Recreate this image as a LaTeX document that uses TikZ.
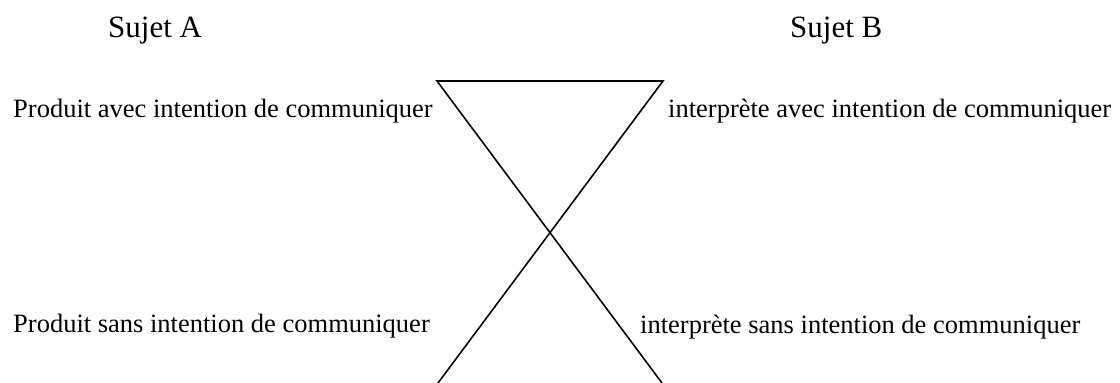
\documentclass[tikz,border=0pt]{standalone}
\usepackage{fontspec}
\setmainfont{Liberation Serif}
\begin{document}
\begin{tikzpicture}[x=1pt,y=-1pt,
  lbl/.style={inner sep=0pt,anchor=base west,font=\fontsize{26.5}{30}\selectfont},
  head/.style={inner sep=0pt,anchor=base west,font=\fontsize{31}{36}\selectfont},
  xline/.style={line width=1.6pt,line join=miter}]
\useasboundingbox (0,0) rectangle (1120,383);
\node[head] (sa) at (108,37) {Sujet A};
\node[head] (sb) at (790,37) {Sujet B};
\node[lbl] (pa) at (13,117) {Produit avec intention de communiquer};
\node[lbl] (ps) at (13,332) {Produit sans intention de communiquer};
\node[lbl] (ia) at (668,117) {interprète avec intention de communiquer};
\node[lbl] (is) at (640,333) {interprète sans intention de communiquer};
\coordinate (tl) at (437,81);
\coordinate (tr) at (663,81);
\coordinate (bl) at (438,383);
\coordinate (br) at (662,383);
\draw[xline] (br) -- (tl) -- (tr) -- (bl);
\end{tikzpicture}
\end{document}
